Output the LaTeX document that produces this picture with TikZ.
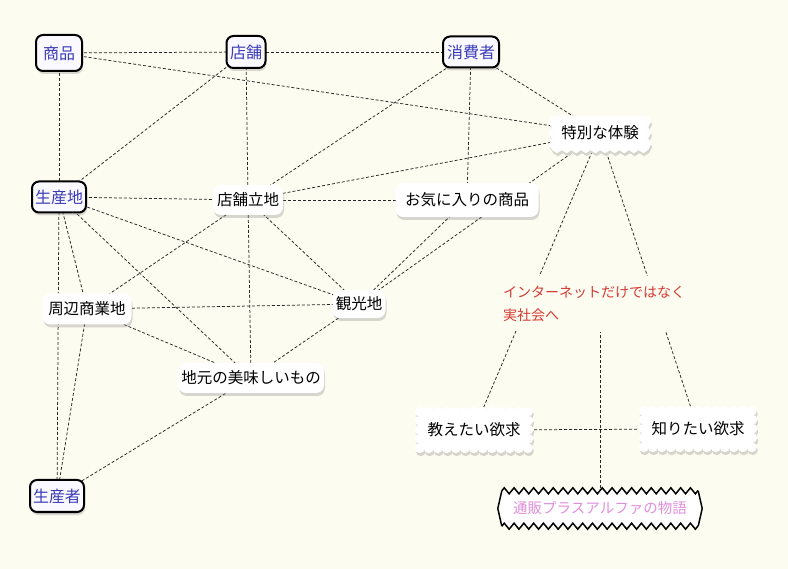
\documentclass[tikz,border=0pt]{standalone}
\usepackage{fontspec}
\setmainfont{Noto Sans CJK JP}
\usetikzlibrary{shadows,calc,decorations.pathmorphing}
\definecolor{bgcream}{HTML}{FDFCF0}
\definecolor{keyblue}{HTML}{3B3BB8}
\definecolor{keyfill}{HTML}{F9F9FF}
\definecolor{inetred}{HTML}{D43A35}
\definecolor{storypink}{HTML}{E08EDC}
\definecolor{shadowgray}{HTML}{D6D5CB}
\pgfdeclarelayer{bg}
\pgfdeclarelayer{edges}
\pgfdeclarelayer{shapes}
\pgfsetlayers{bg,edges,shapes,main}
% scalloped outline round a 108x36 node: box, then the bumps
\newcommand\scallopbox[1]{(#1.north west) rectangle (#1.south east)}
\newcommand\scallopbumps[1]{%
  \foreach \sx in {0,9,...,108} {($(#1.north west)+(\sx,0)$) circle (5) ($(#1.south west)+(\sx,0)$) circle (5)}
  \foreach \sy in {9,18,27} {($(#1.north west)+(0,\sy)$) circle (5) ($(#1.north east)+(0,\sy)$) circle (5)}}
% torn-paper outline (sides and bottom jagged), 96x34 node
\newcommand\tornoutline[1]{%
  (#1.north west) -- (#1.north east)
  \foreach \si in {0,1,2} {-- ($(#1.north east)+(3,{\si*11.333+5.667})$) -- ($(#1.north east)+(0,{\si*11.333+11.333})$)}
  \foreach \si in {0,...,9} {-- ($(#1.south east)+({-\si*9.6-4.8},3)$) -- ($(#1.south east)+({-\si*9.6-9.6},0)$)}
  \foreach \si in {0,1,2} {-- ($(#1.south west)+(-3,{-\si*11.333-5.667})$) -- ($(#1.south west)+(0,{-\si*11.333-11.333})$)}
  -- cycle}
\begin{document}
\begin{tikzpicture}[x=1pt,y=-1pt,
  edge/.style={draw=black!85, line width=0.75pt, dash pattern=on 3pt off 2pt},
  shadowed/.style={drop shadow={opacity=0.3, shadow xshift=1pt, shadow yshift=-3pt}},
  keynode/.style={draw=black, line width=2pt, rounded corners=7pt, fill=keyfill, text=keyblue,
    font=\fontsize{16}{18}\selectfont, inner sep=0pt, shadowed},
  plainnode/.style={rounded corners=8pt, fill=white, text=black,
    font=\fontsize{15.5}{18}\selectfont, inner sep=0pt, shadowed},
  shapetext/.style={text=black, font=\fontsize{15.5}{18}\selectfont, inner sep=0pt},
  shapeshadow/.style={fill=shadowgray, transform canvas={shift={(1pt,-3pt)}}},
  shapefill/.style={fill=white},
  frameline/.style={draw=black, line width=1.5pt, line join=miter},
  zigline/.style={frameline, decorate, decoration={zigzag, segment length=9.8pt, amplitude=3pt}}
]
\begin{pgfonlayer}{bg}
\fill[bgcream] (0,0) rectangle (788,569);
\end{pgfonlayer}
\useasboundingbox (0,0) rectangle (788,569);

% key nodes
\node[keynode, minimum width=46pt, minimum height=36pt] (shohin) at (59,53) {商品};
\node[keynode, minimum width=39pt, minimum height=32pt] (tenpo) at (246,52) {店舗};
\node[keynode, minimum width=56pt, minimum height=31pt] (shohisha) at (471,52) {消費者};
\node[keynode, minimum width=54pt, minimum height=31pt] (seisanchi) at (59,197) {生産地};
\node[keynode, minimum width=54pt, minimum height=32pt] (seisansha) at (57,496) {生産者};

% plain nodes
\node[plainnode, minimum width=70pt, minimum height=30pt] (ritchi) at (248,200) {店舗立地};
\node[plainnode, minimum width=143pt, minimum height=34pt] (okini) at (467,200) {お気に入りの商品};
\node[plainnode, minimum width=89pt, minimum height=31pt] (shuhen) at (87,309) {周辺商業地};
\node[plainnode, minimum width=53pt, minimum height=28pt] (kanko) at (359,304) {観光地};
\node[plainnode, minimum width=146pt, minimum height=30pt] (jimoto) at (251,378) {地元の美味しいもの};

% shaped nodes
\node[shapetext, minimum width=96pt, minimum height=34pt] (tokubetsu) at (600,133) {特別な体験};
\node[shapetext, minimum width=108pt, minimum height=36pt] (oshie) at (474,430) {教えたい欲求};
\node[shapetext, minimum width=108pt, minimum height=36pt] (shiri) at (698,429) {知りたい欲求};
\node[shapetext, text=storypink, font=\fontsize{14.5}{18}\selectfont, minimum width=196pt, minimum height=35pt] (tsuhan) at (600,508.5) {通販プラスアルファの物語};
\node[fill=bgcream, text=inetred, align=left, font=\fontsize{14}{23}\selectfont,
  minimum width=195pt, minimum height=55pt, inner sep=0pt] (inet) at (594,304)
  {インターネットだけではなく\\実社会へ};

\begin{pgfonlayer}{shapes}
\path[shapeshadow] \tornoutline{tokubetsu};
\path[shapefill] \tornoutline{tokubetsu};
\path[shapeshadow] \scallopbox{oshie};
\path[shapeshadow] \scallopbumps{oshie};
\path[shapeshadow] \scallopbox{shiri};
\path[shapeshadow] \scallopbumps{shiri};
\path[shapefill] \scallopbox{oshie};
\path[shapefill] \scallopbumps{oshie};
\path[shapefill] \scallopbox{shiri};
\path[shapefill] \scallopbumps{shiri};
% zigzag frame of the story node
\path[shapefill] (tsuhan.north west) -- (tsuhan.north east) -- ($(tsuhan.east)+(4,0)$)
  -- (tsuhan.south east) -- (tsuhan.south west) -- ($(tsuhan.west)+(-4,0)$) -- cycle;
\draw[zigline] (tsuhan.north west) -- (tsuhan.north east);
\draw[zigline] (tsuhan.south west) -- (tsuhan.south east);
\draw[frameline] (tsuhan.north east) -- ($(tsuhan.east)+(4,0)$) -- (tsuhan.south east);
\draw[frameline] (tsuhan.north west) -- ($(tsuhan.west)+(-4,0)$) -- (tsuhan.south west);
\end{pgfonlayer}

\begin{pgfonlayer}{edges}
\draw[edge] (shohin.center) -- (tenpo.center);
\draw[edge] (tenpo.center) -- (shohisha.center);
\draw[edge] (shohin.center) -- (tokubetsu.center);
\draw[edge] (shohin.center) -- (seisanchi.center);
\draw[edge] (tenpo.center) -- (seisanchi.center);
\draw[edge] (tenpo.center) -- (ritchi.center);
\draw[edge] (ritchi.center) -- (jimoto.center);
\draw[edge] (shohisha.center) -- (ritchi.center);
\draw[edge] (shohisha.center) -- (okini.center);
\draw[edge] (shohisha.center) -- (tokubetsu.center);
\draw[edge] (tokubetsu.center) -- (ritchi.center);
\draw[edge] (tokubetsu.center) -- (kanko.center);
\draw[edge] (tokubetsu.center) -- (oshie.center);
\draw[edge] (tokubetsu.center) -- (shiri.center);
\draw[edge] (tsuhan.center) -- (tsuhan.center |- inet.south);
\draw[edge] (oshie.center) -- (shiri.center);
\draw[edge] (seisanchi.center) -- (ritchi.center);
\draw[edge] (seisanchi.center) -- (kanko.center);
\draw[edge] (seisanchi.center) -- (jimoto.center);
\draw[edge] (seisanchi.center) -- (shuhen.center);
\draw[edge] (seisanchi.center) -- (seisansha.center);
\draw[edge] (shuhen.center) -- (seisansha.center);
\draw[edge] (shuhen.center) -- (ritchi.center);
\draw[edge] (shuhen.center) -- (kanko.center);
\draw[edge] (shuhen.center) -- (jimoto.center);
\draw[edge] (ritchi.center) -- (kanko.center);
\draw[edge] (ritchi.center) -- (okini.center);
\draw[edge] (kanko.center) -- (jimoto.center);
\draw[edge] (kanko.center) -- (okini.center);
\draw[edge] (jimoto.center) -- (seisansha.center);
\end{pgfonlayer}
\end{tikzpicture}
\end{document}
